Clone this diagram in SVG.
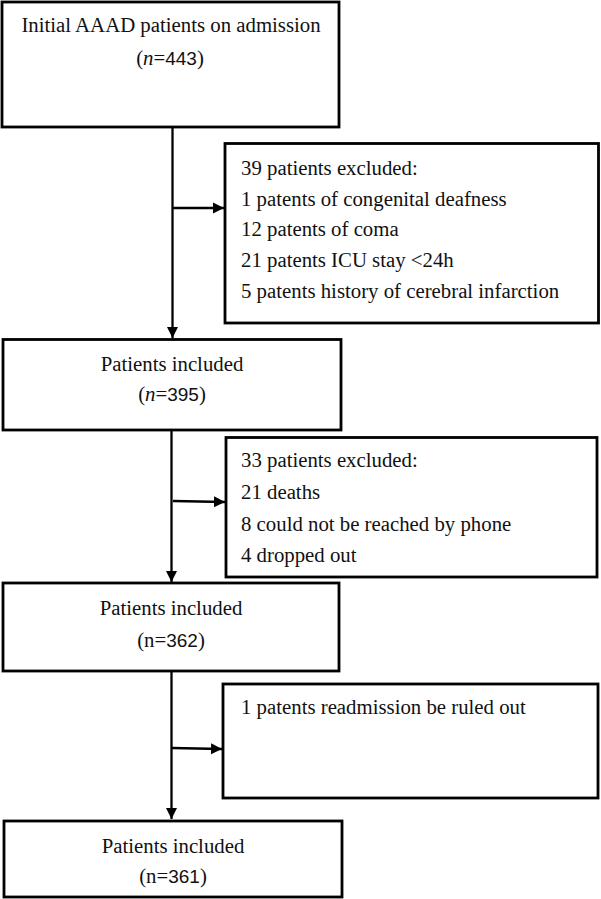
<svg xmlns="http://www.w3.org/2000/svg" width="601" height="899" viewBox="0 0 601 899">
<style>
.box{fill:#fff;stroke:#000;stroke-width:2.8}
.t{font-family:"Liberation Serif","Times New Roman",serif;font-size:20.8px;fill:#111}
.c{text-anchor:middle}
.d{font-family:"Liberation Sans",Arial,sans-serif;font-size:19px}
.conn{stroke:#000;stroke-width:2.3;fill:none}
</style>
<defs>
<marker id="ah" viewBox="0 0 10 10" refX="10" refY="5" markerWidth="11" markerHeight="13" markerUnits="userSpaceOnUse" orient="auto">
<path d="M0,0 L10,5 L0,10 z" fill="#000"/>
</marker>
</defs>
<g id="connectors">
<line class="conn" x1="172.5" y1="127" x2="172.5" y2="338" marker-end="url(#ah)"/>
<line class="conn" x1="172.5" y1="208" x2="224" y2="208" marker-end="url(#ah)"/>
<line class="conn" x1="171.5" y1="430" x2="171.5" y2="582" marker-end="url(#ah)"/>
<line class="conn" x1="173" y1="501" x2="225" y2="502" marker-end="url(#ah)"/>
<line class="conn" x1="171.5" y1="670" x2="171.5" y2="819" marker-end="url(#ah)"/>
<line class="conn" x1="172" y1="748" x2="222" y2="749" marker-end="url(#ah)"/>
</g>
<g id="n1">
<rect class="box" x="2" y="2" width="337" height="125"/>
<text class="t c" x="171" y="32">Initial AAAD patients on admission</text>
<text class="t c" x="170" y="65">(<tspan font-style="italic">n</tspan>=<tspan class="d">443</tspan>)</text>
</g>
<g id="n2">
<rect class="box" x="225" y="143.5" width="373.5" height="179.5"/>
<text class="t" x="241" y="175">39 patients excluded:</text>
<text class="t" x="241" y="206">1 patents of congenital deafness</text>
<text class="t" x="241" y="236">12 patents of coma</text>
<text class="t" x="241" y="267">21 patents ICU stay &lt;24h</text>
<text class="t" x="241" y="298">5 patents history of cerebral infarction</text>
</g>
<g id="n3">
<rect class="box" x="3" y="339.5" width="338" height="90.5"/>
<text class="t c" x="172" y="371">Patients included</text>
<text class="t c" x="172" y="401">(<tspan font-style="italic">n</tspan>=<tspan class="d">395</tspan>)</text>
</g>
<g id="n4">
<rect class="box" x="226" y="437.5" width="371" height="139.5"/>
<text class="t" x="241" y="467">33 patients excluded:</text>
<text class="t" x="241" y="499">21 deaths</text>
<text class="t" x="241" y="531">8 could not be reached by phone</text>
<text class="t" x="241" y="562">4 dropped out</text>
</g>
<g id="n5">
<rect class="box" x="3" y="583" width="336" height="88"/>
<text class="t c" x="171" y="615">Patients included</text>
<text class="t c" x="171" y="647">(n=<tspan class="d">362</tspan>)</text>
</g>
<g id="n6">
<rect class="box" x="223" y="684" width="375" height="114"/>
<text class="t" x="241" y="714">1 patents readmission be ruled out</text>
</g>
<g id="n7">
<rect class="box" x="4" y="821" width="338" height="76"/>
<text class="t c" x="173" y="853">Patients included</text>
<text class="t c" x="173" y="883">(n=<tspan class="d">361</tspan>)</text>
</g>
</svg>
